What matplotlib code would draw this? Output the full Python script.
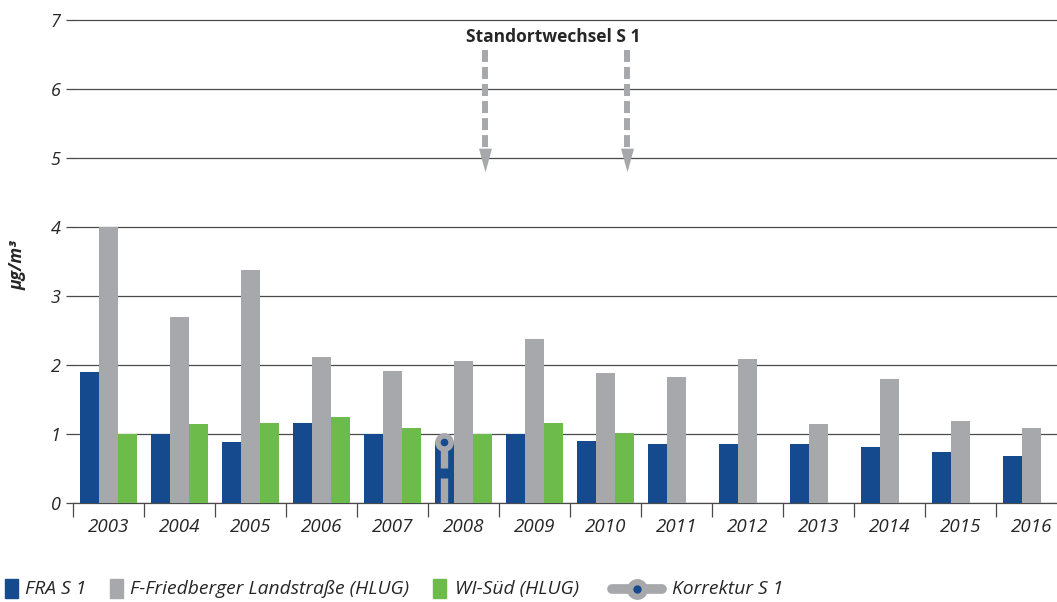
import matplotlib
matplotlib.use("Agg")
import matplotlib.pyplot as plt
from matplotlib.patches import Rectangle
from matplotlib.lines import Line2D
import numpy as np

plt.rcParams['font.family'] = ['Open Sans', 'DejaVu Sans']

years = ['2003', '2004', '2005', '2006', '2007', '2008', '2009', '2010',
         '2011', '2012', '2013', '2014', '2015', '2016']
fra_s1 = [1.90, 1.00, 0.88, 1.16, 1.00, 0.88, 1.00, 0.90, 0.86, 0.86, 0.86, 0.81, 0.74, 0.68]
friedberger = [4.00, 2.70, 3.37, 2.12, 1.92, 2.06, 2.38, 1.89, 1.83, 2.08, 1.15, 1.80, 1.19, 1.09]
wi_sued = [1.00, 1.15, 1.16, 1.24, 1.09, 1.00, 1.16, 1.02, None, None, None, None, None, None]
korrektur_year = '2008'
korrektur_value = 0.89
arrow_years = ['2008', '2010']
yticks = [0, 1, 2, 3, 4, 5, 6, 7]

C_BLUE = '#154a8f'
C_GRAY = '#a7a8ab'
C_GREEN = '#6dbb4b'
C_GRID = '#4a4a4a'
C_TEXT = '#262626'

W, H = 1057, 602
fig = plt.figure(figsize=(W / 100, H / 100), dpi=100)
ax_left, ax_bottom = 73 / W, (H - 503) / H
ax_top = (503 - 7.2 * 69) / H
ax = fig.add_axes([ax_left, ax_bottom, 1 - ax_left, 1 - ax_bottom - ax_top])

x = np.arange(len(years))
bw = 0.27
ax.bar(x - bw, fra_s1, bw, color=C_BLUE, zorder=3)
ax.bar(x, friedberger, bw, color=C_GRAY, zorder=3)
wx = [xi + bw for xi, v in zip(x, wi_sued) if v is not None]
wv = [v for v in wi_sued if v is not None]
ax.bar(wx, wv, bw, color=C_GREEN, zorder=3)

# Korrektur marker on 2008 FRA bar
ki = years.index(korrektur_year) - bw
ax.plot([ki, ki], [0, 0.36], color=C_GRAY, lw=5.3, solid_capstyle='butt', zorder=4)
ax.plot([ki, ki], [0.51, korrektur_value], color=C_GRAY, lw=5.3, solid_capstyle='butt', zorder=4)
ax.plot([ki], [korrektur_value], marker='o', ms=13.5, color=C_GRAY, mew=0, zorder=5)
ax.plot([ki], [korrektur_value], marker='o', ms=5.5, color=C_BLUE, mew=0, zorder=6)

# Standortwechsel arrows
head = [(-0.55, 1), (0.55, 1), (0, -1)]
for yr in arrow_years:
    ax_x = years.index(yr) + 0.3
    ax.plot([ax_x, ax_x], [6.57, 4.97], color=C_GRAY, lw=4.3, dashes=(2.0, 0.85),
            solid_capstyle='butt', dash_capstyle='butt', zorder=4, clip_on=False)
    ax.plot([ax_x], [4.97], marker=head, ms=17, color=C_GRAY, mew=0, zorder=4)
ax.text(6.27, 6.75, 'Standortwechsel S 1', ha='center', va='center',
        fontsize=12.5, fontweight='bold', color=C_TEXT, zorder=6)

ax.set_xlim(-0.5, (W - 73) / 71 - 0.5)
ax.set_ylim(0, 7.2)
ax.set_yticks(yticks)
ax.set_yticklabels([str(t) for t in yticks], fontstyle='italic', fontsize=13, color=C_TEXT)
ax.yaxis.grid(True, color=C_GRID, lw=0.9, zorder=0)
ax.set_axisbelow(True)
ax.tick_params(axis='y', length=5, width=0.9, color=C_GRID, pad=4)

ax.set_xticks(x)
ax.set_xticklabels(years, fontstyle='italic', fontsize=13.5, color=C_TEXT)
ax.set_xticks(np.arange(len(years)) - 0.5, minor=True)
ax.tick_params(axis='x', which='major', length=0, pad=10.5)
ax.tick_params(axis='x', which='minor', length=10, width=0.9, color=C_GRID, direction='out')

for s in ['top', 'right', 'left']:
    ax.spines[s].set_visible(False)
ax.spines['bottom'].set_color(C_GRID)
ax.spines['bottom'].set_linewidth(0.9)

fig.text(18 / W, (H - 265) / H, 'µg/m³', rotation=90, ha='center', va='center',
         fontsize=12.5, fontweight='bold', fontstyle='italic', color=C_TEXT)

# Legend (manual)
ly = (H - 589) / H
def fx(px):
    return px / W
def fy(py):
    return (H - py) / H
for px, col in [(5, C_BLUE), (110, C_GRAY), (433, C_GREEN)]:
    fig.patches.append(Rectangle((fx(px), fy(598)), 13 / W, 19 / H, transform=fig.transFigure,
                                 color=col, figure=fig))
for px, txt in [(25, 'FRA S 1'), (130, 'F-Friedberger Landstraße (HLUG)'),
                (455, 'WI-Süd (HLUG)'), (672, 'Korrektur S 1')]:
    fig.text(fx(px), ly, txt, ha='left', va='center', fontsize=13.9,
             fontstyle='italic', color=C_TEXT)
fig.lines.append(Line2D([fx(612), fx(662)], [ly, ly], transform=fig.transFigure,
                        color=C_GRAY, lw=7, solid_capstyle='round', figure=fig))
fig.lines.append(Line2D([fx(637)], [ly], transform=fig.transFigure, marker='o', ms=15,
                        color=C_GRAY, mew=0, lw=0, figure=fig))
fig.lines.append(Line2D([fx(637)], [ly], transform=fig.transFigure, marker='o', ms=6,
                        color=C_BLUE, mew=0, lw=0, figure=fig))

fig.savefig('out.png', dpi=100)
